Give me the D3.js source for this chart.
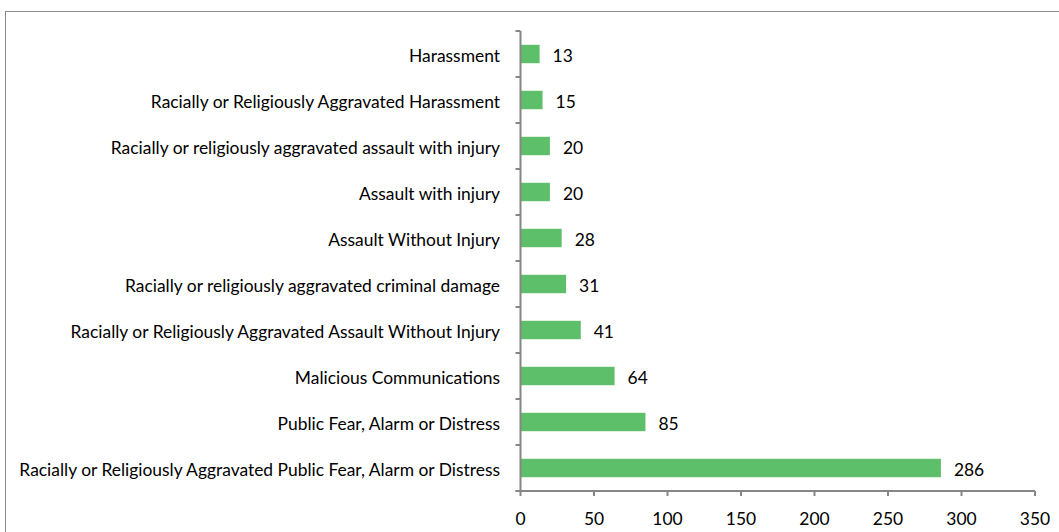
<!DOCTYPE html>
<html><head><meta charset="utf-8">
<script src="https://cdn.jsdelivr.net/npm/d3@7"></script>
<style>body{margin:0;background:#fff}svg{display:block}text{font-family:Lato,"Open Sans",sans-serif;fill:#000}</style>
</head><body>
<svg id="c" width="1059" height="532"></svg>
<script>
const categories = [
  "Harassment",
  "Racially or Religiously Aggravated Harassment",
  "Racially or religiously aggravated assault with injury",
  "Assault with injury",
  "Assault Without Injury",
  "Racially or religiously aggravated criminal damage",
  "Racially or Religiously Aggravated Assault Without Injury",
  "Malicious Communications",
  "Public Fear, Alarm or Distress",
  "Racially or Religiously Aggravated Public Fear, Alarm or Distress"
];
const values = [13, 15, 20, 20, 28, 31, 41, 64, 85, 286];
const xTicks = [0, 50, 100, 150, 200, 250, 300, 350];

(function () {
const svg = d3.select("#c");
const axisColor = "#868686";
const barColor = "#5EBF6A";

svg.append("rect").attr("x", 5.5).attr("y", 11.5).attr("width", 1070).attr("height", 560)
  .attr("fill", "none").attr("stroke", "#8c8c8c").attr("stroke-width", 1);

const pLeft = 520.5, pRight = 1035, pTop = 31, pBottom = 491;
const x = d3.scaleLinear().domain([0, 350]).range([pLeft, pRight]);
const y = d3.scaleBand().domain(categories).range([pTop, pBottom]).paddingInner(0.6).paddingOuter(0.3);

const fs = 15.5;

svg.append("g").selectAll("rect").data(values).join("rect")
  .attr("x", x(0)).attr("y", (d, i) => y(categories[i]))
  .attr("width", d => x(d) - x(0)).attr("height", y.bandwidth())
  .attr("fill", barColor);

const yl = d3.scaleBand().domain(categories).range([pTop, pBottom]);
const gy = svg.append("g");
gy.append("line").attr("x1", pLeft).attr("x2", pLeft).attr("y1", pTop).attr("y2", pBottom)
  .attr("stroke", axisColor).attr("stroke-width", 2);
const bounds = d3.range(categories.length + 1).map(i => pTop + i * yl.step());
gy.selectAll("line.t").data(bounds).join("line").attr("class", "t")
  .attr("x1", pLeft - 5).attr("x2", pLeft).attr("y1", d => d).attr("y2", d => d)
  .attr("stroke", axisColor).attr("stroke-width", 2);
gy.selectAll("text").data(categories).join("text")
  .attr("x", 500).attr("y", d => yl(d) + yl.step() / 2 + 1.5).attr("dy", "0.35em")
  .attr("text-anchor", "end").attr("font-size", fs).text(d => d);

const gx = svg.append("g");
gx.append("line").attr("x1", pLeft - 5).attr("x2", pRight).attr("y1", pBottom).attr("y2", pBottom)
  .attr("stroke", axisColor).attr("stroke-width", 2);
gx.selectAll("line.t").data(xTicks).join("line").attr("class", "t")
  .attr("x1", d => x(d)).attr("x2", d => x(d)).attr("y1", pBottom).attr("y2", pBottom + 5)
  .attr("stroke", axisColor).attr("stroke-width", 2);
gx.selectAll("text").data(xTicks).join("text")
  .attr("x", d => x(d)).attr("y", 519).attr("dy", "0.35em")
  .attr("text-anchor", "middle").attr("font-size", fs).text(d => d);

svg.append("g").selectAll("text").data(values).join("text")
  .attr("x", d => x(d) + 13).attr("y", (d, i) => yl(categories[i]) + yl.step() / 2 + 1.5).attr("dy", "0.35em")
  .attr("font-size", fs).text(d => d);

const longest = gy.selectAll("text").nodes().reduce((m, n) => Math.max(m, n.getComputedTextLength()), 0);
const k = 481 / longest;
svg.selectAll("text").attr("font-size", fs * k);
})();
</script>
</body></html>
